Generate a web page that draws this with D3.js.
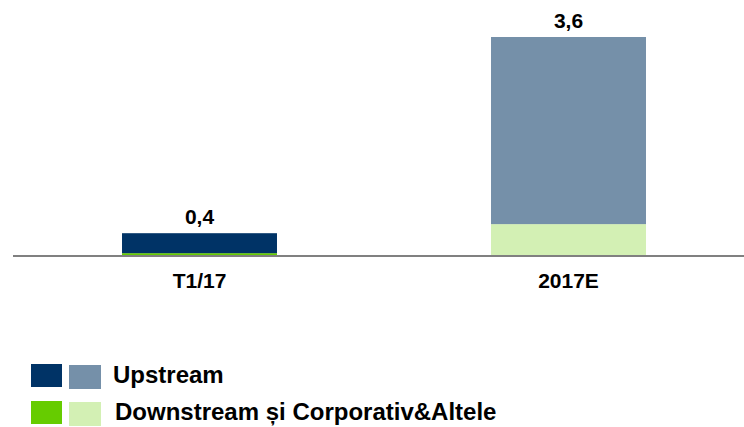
<!DOCTYPE html>
<html>
<head>
<meta charset="utf-8">
<script src="https://cdn.jsdelivr.net/npm/d3@7.9.0/dist/d3.min.js"></script>
<style>
  body { margin: 0; background: #fff; }
  text { font-family: "Liberation Sans", Arial, sans-serif; font-weight: bold; fill: #000; }
</style>
</head>
<body>
<svg id="chart" width="744" height="427"></svg>
<script>
// data
const periods = ["T1/17", "2017E"];
const upstream = [0.33, 3.09];
const downstream = [0.03, 0.51];
const seriesNames = ["Upstream", "Downstream și Corporativ&Altele"];
// colours per period: dark for actual, light for estimate
const upColors = ["#003366", "#7590a9"];
const downColors = ["#66cc00", "#d3f0b4"];

const svg = d3.select("#chart");

const x = d3.scaleBand()
    .domain(periods)
    .range([15, 753])
    .paddingInner(0.58)
    .paddingOuter(0.29);

const y = d3.scaleLinear()
    .domain([0, 3.6])
    .range([255, 37]);

const fmt = v => d3.format(".1f")(v).replace(".", ",");

// stacked bars: downstream at bottom, upstream on top
periods.forEach((p, i) => {
    svg.append("rect")
        .attr("x", x(p))
        .attr("width", x.bandwidth())
        .attr("y", y(downstream[i]))
        .attr("height", y(0) - y(downstream[i]))
        .attr("fill", downColors[i]);
    svg.append("rect")
        .attr("x", x(p))
        .attr("width", x.bandwidth())
        .attr("y", y(downstream[i] + upstream[i]))
        .attr("height", y(downstream[i]) - y(downstream[i] + upstream[i]))
        .attr("fill", upColors[i]);

    let total = upstream[i] + downstream[i];
    svg.append("text")
        .attr("x", x(p) + x.bandwidth() / 2)
        .attr("y", y(total) - 9)
        .attr("text-anchor", "middle")
        .style("font-size", "21px")
        .text(fmt(total));
});

// baseline
svg.append("line")
    .attr("x1", 13).attr("x2", 744)
    .attr("y1", y(0) + 1).attr("y2", y(0) + 1)
    .attr("stroke", "#808080")
    .attr("stroke-width", 2);

// category axis
const xAxis = svg.append("g")
    .attr("transform", `translate(0,${y(0) + 1})`)
    .call(d3.axisBottom(x).tickSize(0).tickPadding(32));
xAxis.select(".domain").remove();
xAxis.selectAll("text")
    .attr("dy", 0)
    .style("font-size", "21px")
    .style("font-family", "Liberation Sans, Arial, sans-serif")
    .style("font-weight", "bold")
    .attr("fill", "#000");

// legend
const legend = svg.append("g");
const rows = [
    { name: seriesNames[0], dark: upColors[0], light: upColors[1], y: 364, tx: 113 },
    { name: seriesNames[1], dark: downColors[0], light: downColors[1], y: 401, tx: 115 }
];
rows.forEach(r => {
    legend.append("rect").attr("x", 31).attr("y", r.y).attr("width", 31).attr("height", 23).attr("fill", r.dark);
    legend.append("rect").attr("x", 69).attr("y", r.y + 1).attr("width", 32).attr("height", 24).attr("fill", r.light);
    legend.append("text")
        .attr("x", r.tx)
        .attr("y", r.y + 19)
        .style("font-size", "24px")
        .text(r.name);
});
</script>
</body>
</html>
